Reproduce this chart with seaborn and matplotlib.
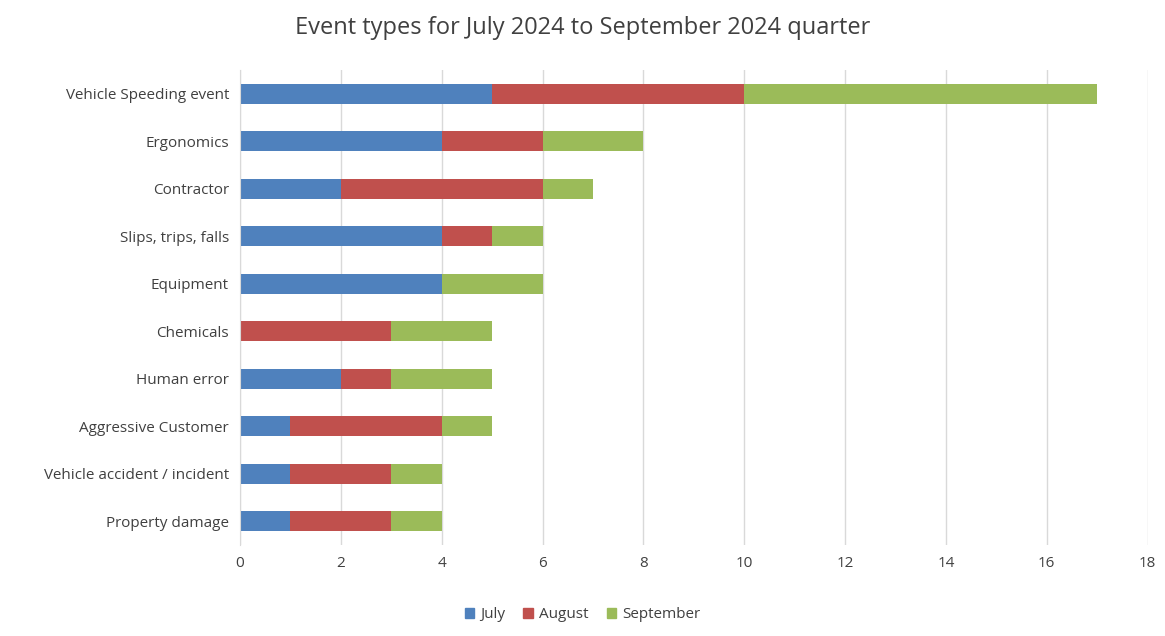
import pandas as pd
import matplotlib.pyplot as plt
import seaborn as sns
from matplotlib.patches import Patch

# Data
categories = ['Vehicle Speeding event', 'Ergonomics', 'Contractor', 'Slips, trips, falls',
              'Equipment', 'Chemicals', 'Human error', 'Aggressive Customer',
              'Vehicle accident / incident', 'Property damage']
july = [5, 4, 2, 4, 4, 0, 2, 1, 1, 1]
august = [5, 2, 4, 1, 0, 3, 1, 3, 2, 2]
september = [7, 2, 1, 1, 2, 2, 2, 1, 1, 1]
colors = {'July': '#4F81BD', 'August': '#C0504D', 'September': '#9BBB59'}

df = pd.DataFrame({'cat': categories, 'July': july, 'August': august, 'September': september})
df['ja'] = df['July'] + df['August']
df['total'] = df['ja'] + df['September']

plt.rcParams['font.family'] = 'Open Sans'
fig = plt.figure(figsize=(11.65, 6.36), dpi=100)
ax = fig.add_axes([0.206, 0.143, 0.779, 0.747])

# stacked bars drawn as cumulative totals, back to front
sns.barplot(data=df, y='cat', x='total', color=colors['September'], width=0.42, ax=ax, saturation=1)
sns.barplot(data=df, y='cat', x='ja', color=colors['August'], width=0.42, ax=ax, saturation=1)
sns.barplot(data=df, y='cat', x='July', color=colors['July'], width=0.42, ax=ax, saturation=1)

ax.set_xlim(0, 18)
ax.set_xticks(range(0, 19, 2))
ax.set_xlabel('')
ax.set_ylabel('')
ax.grid(axis='x', color='#d9d9d9', linewidth=1)
ax.set_axisbelow(True)
for s in ['top', 'right', 'bottom']:
    ax.spines[s].set_visible(False)
ax.spines['left'].set_color('#d9d9d9')
ax.tick_params(length=0, labelsize=11, colors='#404040', pad=8)

fig.suptitle('Event types for July 2024 to September 2024 quarter', fontsize=17, color='#404040', y=0.975)
handles = [Patch(color=c, label=k) for k, c in colors.items()]
fig.legend(handles=handles, loc='lower center', ncol=3, frameon=False, fontsize=11,
           handlelength=0.6, handleheight=0.6, columnspacing=1.2, handletextpad=0.4,
           bbox_to_anchor=(0.5, 0.0), labelcolor='#404040')

fig.savefig('out.png', dpi=100)
